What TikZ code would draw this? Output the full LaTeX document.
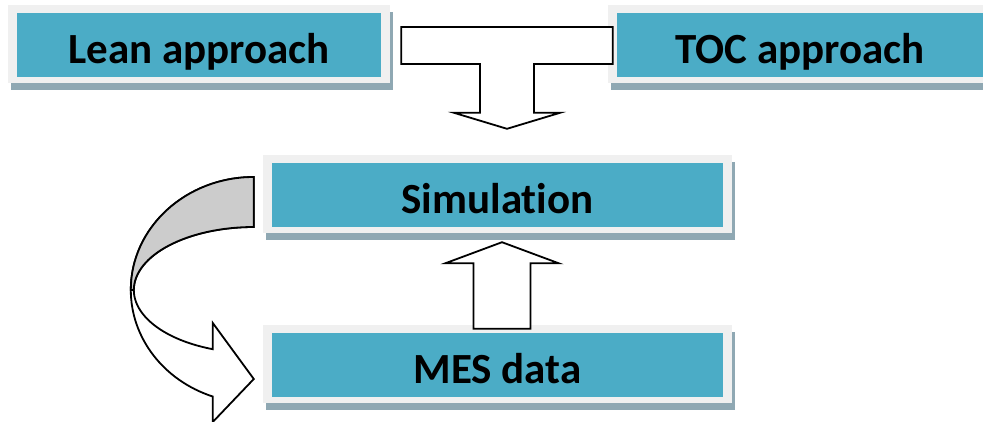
\documentclass[tikz,border=0pt]{standalone}
\usepackage{fontspec}
\setmainfont{Carlito}[Ligatures=NoCommon]
\usetikzlibrary{calc,backgrounds}
\definecolor{panelblue}{HTML}{4BACC6}
\definecolor{panelframe}{HTML}{F0F0F0}
\definecolor{panelshadow}{HTML}{8FA8B3}
\definecolor{bandgray}{HTML}{CCCCCC}
\begin{document}
\begin{tikzpicture}[x=1pt,y=1pt,
  panel/.style={rectangle, fill=panelframe, minimum height=78pt, inner sep=0pt,
    text height=38pt, text depth=0pt,
    font=\fontsize{43}{50}\selectfont\bfseries,
    path picture={\fill[panelblue]
      ([shift={(9pt,6pt)}]path picture bounding box.south west) rectangle
      ([shift={(-9pt,-8pt)}]path picture bounding box.north east);}},
  blockarrow/.style={draw=black, line width=1.8pt, fill=white, line join=miter}]
\useasboundingbox (0,0) rectangle (983,-421);
\begin{scope}
\clip (0,0) rectangle (983,-421);

% labelled panels
\node[panel, minimum width=382pt] (lean) at (199,-44)   {Lean approach};
\node[panel, minimum width=384pt] (toc)  at (800,-44)   {TOC approach};
\node[panel, minimum width=469pt] (sim)  at (497.5,-194) {Simulation};
\node[panel, minimum width=469pt] (mes)  at (497.5,-364) {MES data};

% offset shadows under the panels
\begin{scope}[on background layer]
  \foreach \n in {lean,toc,sim,mes}
    \fill[panelshadow] ($(\n.south west)+(3,-7)$) rectangle ($(\n.north east)+(3,-7)$);
\end{scope}

% T-shaped merge arrow into the simulation
\coordinate (tl)   at ($(lean.east)+(11,17)$);
\coordinate (br)   at ($(toc.west)+(5,-20)$);
\coordinate (ttip) at ($(sim.north)+(9.5,26)$);
\draw[blockarrow] let \p1=(tl), \p2=(br), \p3=(ttip) in
  (\x1,\y1) -- (\x2,\y1) -- (\x2,\y2) -- (\x3+27pt,\y2) -- (\x3+27pt,\y3+16pt)
  -- (\x3+53pt,\y3+16pt) -- (\p3) -- (\x3-53pt,\y3+16pt) -- (\x3-27pt,\y3+16pt)
  -- (\x3-27pt,\y2) -- (\x1,\y2) -- cycle;

% upward arrow from MES data to the simulation
\coordinate (ubase) at ($(mes.north)+(4.5,-4)$);
\coordinate (utip)  at ($(sim.south)+(4.5,-9)$);
\draw[blockarrow] let \p1=(ubase), \p2=(utip) in
  (\x1-28.5pt,\y1) -- (\x1+28.5pt,\y1) -- (\x1+28.5pt,\y2-21pt)
  -- (\x1+56.5pt,\y2-21pt) -- (\p2) -- (\x1-56.5pt,\y2-21pt)
  -- (\x1-28.5pt,\y2-21pt) -- cycle;

% curved feedback arrow from the simulation back to MES data
\coordinate (c)    at ($(sim.west)+(-9,-96)$);
\coordinate (ctip) at ($(mes.west)+(-9,-15)$);
\draw[blockarrow] ($(c)+(0,113)$)
  arc[start angle=90, end angle=250.5, x radius=123pt, y radius=113pt]
  -- ++(0,-25.5) -- (ctip) -- ($(c)+(-41,-33)$) -- ($(c)+(-41,-59.2)$)
  arc[start angle=250, end angle=90, x radius=120pt, y radius=63pt] -- cycle;
\draw[blockarrow, fill=bandgray] ($(c)+(0,113)$)
  arc[start angle=90, end angle=180, x radius=123pt, y radius=113pt]
  -- ($(c)+(-120,0)$)
  arc[start angle=180, end angle=90, x radius=120pt, y radius=63pt] -- cycle;
\end{scope}
\end{tikzpicture}
\end{document}
